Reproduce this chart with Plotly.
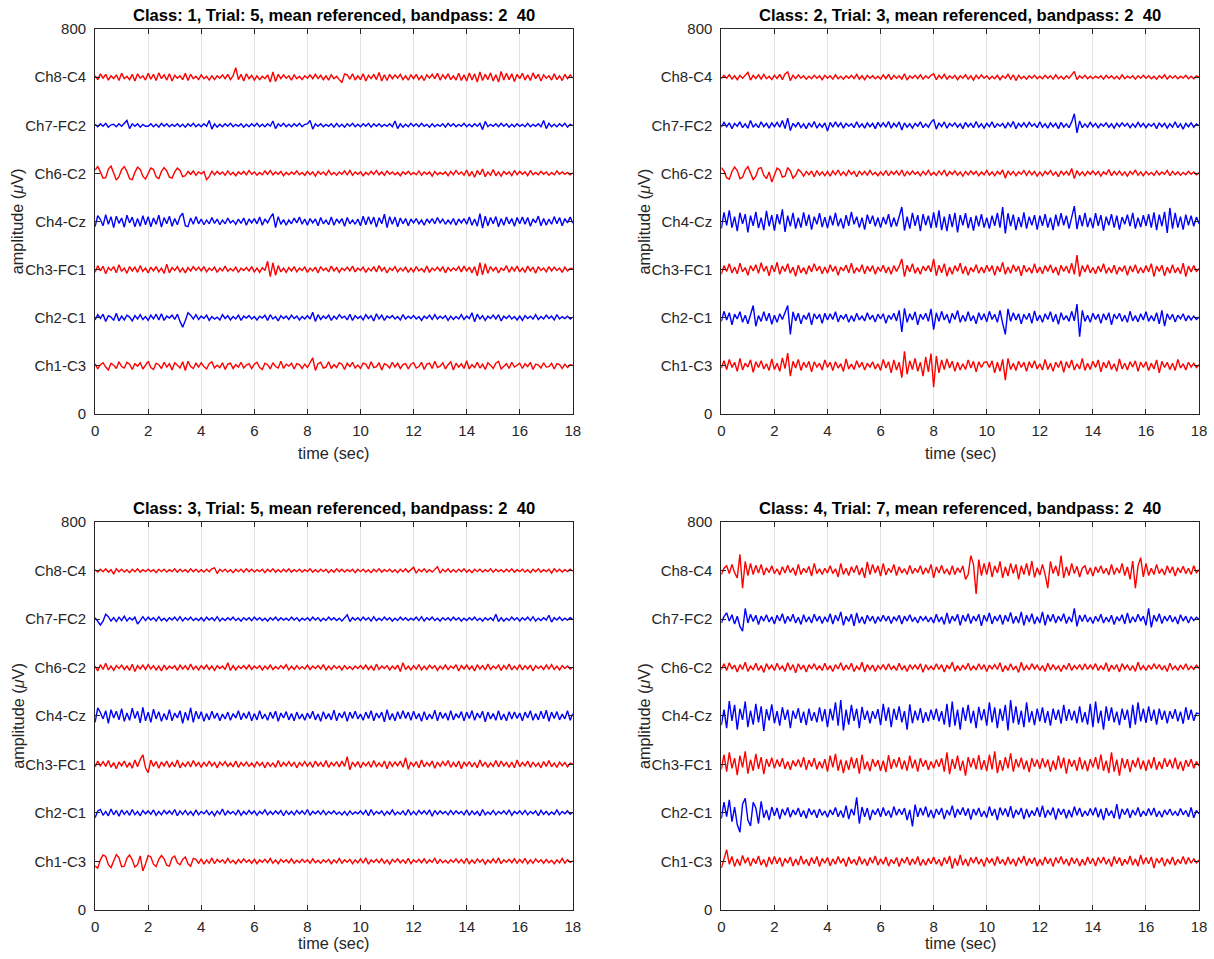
import numpy as np
import plotly.graph_objects as go

# Stored EEG traces: deviation from each channel's baseline, in microvolts,
# sampled at FS samples per second over 18 s.
FS = 10

channel_labels = ["Ch1-C3", "Ch2-C1", "Ch3-FC1", "Ch4-Cz", "Ch6-C2", "Ch7-FC2", "Ch8-C4"]
channel_offsets = [100, 200, 300, 400, 500, 600, 700]
channel_colors = ["#ff0000", "#0000ff", "#ff0000", "#0000ff", "#ff0000", "#0000ff", "#ff0000"]

y_tick_vals = [0] + channel_offsets + [800]
y_tick_text = ["0"] + channel_labels + ["800"]
x_tick_vals = list(range(0, 19, 2))

class_ids = [1, 2, 3, 4]
trial_ids = [5, 3, 5, 7]
band_low, band_high = 2, 40

# ---------------- Class 1, trial 5 ----------------
c1_ch1 = [4,-7,2,6,-3,-9,5,1,-6,8,-2,-5,7,3,-8,4,-1,6,-7,2,
          9,-4,-8,5,2,-6,7,-3,4,-9,6,1,-5,8,-10,9,-2,-6,5,-3,
          6,-2,-7,4,8,-5,1,-4,6,-8,3,5,-6,2,-3,7,-5,1,4,-6,
          3,7,-4,-8,5,2,-7,6,-2,-5,9,-6,3,-1,5,-7,4,2,-6,3,
          -4,6,16,-10,4,7,-5,-3,8,-6,2,-4,6,3,-8,5,-2,7,-5,1,
          -6,5,3,-7,8,-4,-2,6,-9,4,1,-5,7,-3,5,-6,2,4,-7,3,
          6,-5,-2,7,-8,3,5,-6,9,-4,-1,6,-7,2,8,-9,5,-3,4,-6,
          10,-7,2,-4,7,-5,3,-8,6,1,-6,5,9,-7,-2,4,-6,7,-3,2,
          5,-6,4,-2,7,-8,3,1,-5,6,-3,-2,5,-7,4,2,-6,3,-4,2,
          1]
c1_ch2 = [-5,6,-2,7,-8,4,1,-6,9,-7,3,-5,5,1,-7,4,-3,6,-4,2,
          -6,5,-3,7,-5,8,-6,3,-1,5,-4,7,-8,-20,-6,10,5,-3,6,-4,
          3,-2,5,-6,2,-3,1,-5,6,-2,4,-5,2,-3,5,-6,3,-1,4,-3,
          2,-5,3,-1,5,-6,6,-3,2,-7,4,-2,3,-4,5,-2,3,-5,2,-3,
          4,-3,11,-8,6,-4,3,-2,5,-6,3,-3,6,-1,3,-5,7,-6,4,-2,
          3,-5,6,-2,4,-7,8,-3,5,-6,3,-1,4,-3,2,-5,6,-3,3,-2,
          4,-3,2,-6,3,-2,5,-4,6,-3,3,-2,4,-6,3,-4,2,-3,6,-4,
          3,-2,10,-9,7,-3,4,-6,3,-2,5,-3,6,-7,3,-2,4,-3,2,-5,
          3,-6,4,-2,3,-3,6,-4,2,-3,5,-2,3,-5,6,-3,2,-2,3,-3,
          1]
c1_ch3 = [-6,8,-3,7,-9,4,-2,6,-7,10,-4,3,-8,6,-3,5,-6,8,-4,3,
          -7,5,-3,6,-5,3,-8,11,-7,4,-2,6,-5,3,-7,4,-3,6,-2,5,
          -3,6,-5,3,-2,5,-6,3,-3,7,-4,2,-3,5,-6,3,-2,4,-3,6,
          -5,3,-6,4,-2,17,-15,14,-12,8,-5,3,-6,4,-3,6,-5,3,-2,5,
          -6,3,-3,5,-7,6,-2,3,-5,7,-3,4,-6,3,-2,5,-3,7,-5,3,
          -2,5,-6,3,-3,6,-5,8,-3,4,-7,3,-2,6,-5,3,-3,5,-6,3,
          -5,6,-3,2,-5,7,-6,3,-2,5,-3,6,-7,4,-3,3,-2,6,-5,7,
          -3,5,-7,6,-13,14,-11,12,-8,6,-3,5,-7,3,-2,8,-6,5,-3,7,
          -5,3,-6,7,-3,5,-8,6,-2,3,-5,6,-3,5,-2,3,-6,5,-3,2,
          2]
c1_ch4 = [-11,12,4,-9,14,-6,10,-13,11,-4,7,-12,13,-3,9,-11,6,-10,12,-7,
          10,-11,7,-6,13,-12,8,-5,11,-10,6,-7,10,17,-9,-11,7,-6,10,-5,
          5,-7,3,-5,8,-4,5,-7,3,-5,7,-3,2,-6,5,-4,7,-8,5,-3,
          6,-5,9,-8,5,-3,8,16,-13,10,-6,4,-8,3,-5,7,-3,9,-6,5,
          -8,6,-3,5,-9,8,-5,3,-7,9,-8,5,-3,6,-10,8,-5,3,-6,5,
          -9,11,-7,10,-6,9,-12,8,-5,15,-13,10,-6,9,-11,7,-5,6,-9,5,
          -3,6,-5,3,-8,5,-3,6,-5,8,-3,5,-6,3,-5,6,-8,5,-3,6,
          -6,9,-8,5,-10,16,-14,11,-9,8,-5,10,-11,6,-8,9,-5,6,-10,8,
          -5,9,-6,8,-10,5,-3,11,-9,6,-8,5,-6,10,-5,8,-9,6,-3,9,
          -4]
c1_ch6 = [7,14,3,-10,-9,9,15,-1,-14,-7,8,14,4,-11,-13,2,13,8,-6,-12,
          1,11,8,-7,-11,4,12,5,-8,-10,3,11,6,-7,-5,4,-2,5,-4,3,
          -1,4,-13,-7,5,-3,4,-2,3,-4,5,-3,2,-5,3,-2,4,-3,6,-2,
          3,-4,2,-3,5,-2,6,-3,3,-2,4,-5,2,-3,3,-2,5,-3,2,-4,
          4,-3,3,-6,4,-2,3,-4,6,-3,2,-4,3,-2,5,-3,6,-4,3,-2,
          3,-5,2,-3,4,-2,6,-3,3,-4,5,-2,3,-3,2,-5,3,-2,4,-3,
          2,-3,5,-4,3,-2,3,-6,4,-3,2,-2,3,-5,4,-3,6,-2,3,-4,
          7,-6,4,-8,6,-3,9,-7,3,-4,8,-5,3,-6,4,-2,3,-5,6,-3,
          4,-2,3,-5,6,-3,2,-3,4,-2,3,-4,2,-3,5,-2,3,-2,2,-3,
          1]
c1_ch7 = [2,-3,3,-2,4,-4,1,2,-3,3,-2,4,10,-7,3,-2,3,-4,2,-2,
          -2,3,-3,2,-4,4,-2,3,-3,2,-2,3,-3,2,-4,3,-2,4,-3,2,
          -3,3,-2,10,-8,3,-4,2,-3,3,-2,4,-3,2,-2,3,-4,2,-3,3,
          -2,4,-3,2,-3,3,-2,9,-7,3,-2,4,-3,2,-3,3,-2,4,-3,2,
          3,10,-8,3,-2,3,-3,2,-2,3,-4,4,-3,2,-4,3,-2,4,-3,2,
          -3,3,-2,4,-4,3,-2,3,-3,2,-2,3,-3,9,-7,3,-4,2,-3,4,
          -2,3,-3,4,-2,2,-4,3,-3,2,-2,3,-4,4,-2,3,-3,2,-2,4,
          -3,2,-3,3,-2,4,-9,8,-3,2,-2,3,-3,4,-2,3,-4,2,-3,3,
          -2,2,-3,4,-3,2,-2,3,-3,10,-7,4,-3,2,-3,3,-2,4,-4,2,
          -1]
c1_ch8 = [3,-5,7,-2,6,-6,3,-3,5,-7,8,-3,2,-5,6,-8,7,-2,3,-6,
          8,-4,6,-7,9,-3,5,-6,7,-8,4,-2,3,-5,8,-7,6,-3,2,-5,
          5,-3,2,-6,3,-5,3,-2,5,-3,6,-5,3,20,-5,6,-8,7,-3,4,
          -6,3,-5,2,-3,5,-10,11,-9,6,-3,5,-2,3,-6,5,-3,2,-5,3,
          -2,5,-3,6,-3,4,-5,3,-6,5,-3,2,-5,-11,7,5,-4,7,-6,3,
          -5,7,-8,4,-3,6,-5,10,-8,5,-7,6,-3,5,-2,6,-5,3,-6,5,
          -3,6,-5,3,-7,5,-2,6,-3,8,-6,5,-3,7,-5,3,-6,8,-7,5,
          -8,9,-6,7,-10,11,-7,6,-5,9,-8,5,-10,12,-6,8,-5,7,-9,6,
          -3,8,-6,5,-7,9,-3,6,-8,5,-2,3,-6,7,-5,3,-7,6,-3,5,
          -2]

# ---------------- Class 2, trial 3 ----------------
c2_ch1 = [-5,10,-8,13,-4,7,-12,15,-9,5,-3,12,-14,8,-4,10,-7,4,-10,14,
          -8,5,-12,16,-6,26,-22,9,-5,13,-10,7,-4,9,-13,8,-3,5,-9,12,
          -4,7,-10,8,-5,4,-12,14,-7,3,-8,10,-4,7,-9,5,-3,8,-7,4,
          -10,13,-5,8,-15,12,-9,7,-25,30,-18,10,-8,15,-12,7,-22,18,-13,25,
          -45,20,-15,12,-8,14,-5,9,-12,7,-9,4,-8,12,-5,9,-13,8,-4,7,
          8,-4,10,-15,7,-12,13,-30,15,-8,5,-10,9,-4,7,-12,8,-5,10,-7,
          4,-9,13,-8,5,-12,7,-4,10,-14,8,-5,12,-9,4,-7,15,-10,5,-8,
          9,-4,12,-13,7,-5,10,-8,4,-12,14,-7,5,-9,8,-3,10,-12,7,-4,
          8,-10,5,-7,12,-15,9,-4,7,-8,5,-10,13,-5,4,-9,7,-3,5,-4,
          2]
c2_ch2 = [-8,13,-5,10,-15,7,-3,12,-10,5,-13,9,25,-18,4,-8,12,-7,9,-14,
          5,-10,8,-4,13,25,-35,12,-7,9,-13,5,-4,10,-15,8,-3,7,-12,9,
          -5,8,-4,12,-9,5,-3,7,-10,4,-8,9,-5,3,-7,10,-4,5,-9,7,
          -3,8,-12,5,-4,9,-7,15,-30,19,-10,8,-5,12,-15,7,-4,9,-8,18,
          -25,10,-8,13,-5,7,-12,9,-4,15,-10,5,-8,12,-7,4,-13,10,-5,8,
          -9,13,-4,7,-10,15,-12,-35,18,-8,10,-5,8,-13,7,-4,9,-12,14,-7,
          5,-10,8,-4,12,-9,7,-14,10,-5,4,-8,13,-7,28,-40,15,-8,5,-10,
          9,-4,7,-12,8,-5,10,-15,7,-3,9,-8,5,-10,13,-7,4,-9,8,-5,
          12,-8,4,-7,10,-13,15,-18,8,-4,7,-9,5,-3,8,-7,4,-5,3,-4,
          1]
c2_ch3 = [-10,8,-4,12,-7,5,-9,13,-5,4,-12,8,-3,10,-8,14,-4,7,-13,9,
          -5,15,-10,7,-4,12,-8,5,-14,9,-7,4,-10,8,-5,12,-3,7,-9,5,
          -8,10,-4,7,-12,5,-3,9,-7,13,-8,4,-5,10,-9,7,-4,8,-10,5,
          -4,9,-7,5,-10,8,-4,7,22,-15,9,-5,12,-8,4,-10,7,-3,8,-5,
          22,-13,9,-7,12,-14,5,-10,8,-4,13,-9,7,-12,4,-5,10,-8,5,-7,
          9,-4,8,-12,7,-5,15,-10,5,-8,10,-4,7,-13,9,-5,4,-8,12,-7,
          5,-9,8,-4,10,-7,5,-12,9,-4,7,-8,13,-10,30,-15,8,-5,10,-7,
          4,-9,7,-5,12,-8,4,-7,9,-10,5,-4,8,-12,7,-5,10,-8,4,-7,
          8,-5,12,-15,7,-4,9,-13,5,-8,10,-7,4,-9,13,-15,7,-5,8,-4,
          2]
c2_ch4 = [-15,19,-8,23,-13,10,-20,18,-5,15,-23,12,-9,20,-14,8,-18,22,-10,13,
          -19,15,-6,25,-22,12,-10,18,-15,8,-13,19,-9,14,-17,10,-6,17,-12,9,
          -14,12,-8,18,-10,6,-15,13,-9,20,-6,10,-13,8,-17,14,-5,12,-10,8,
          -13,9,-6,15,-12,8,-10,13,30,-19,10,-15,18,-9,13,-20,15,-8,12,-14,
          19,-13,23,-18,10,-20,15,-12,18,-23,13,-8,17,-14,9,-19,12,-10,15,-13,
          8,-15,12,-9,18,-13,30,-25,17,-10,14,-18,9,-12,19,-15,10,-8,13,-17,
          12,-9,15,-13,8,-18,14,-10,17,-8,12,-15,9,32,-16,13,-10,18,-12,8,
          -14,17,-9,13,-19,10,-8,15,-13,12,-17,9,-6,14,-10,18,-15,8,-12,13,
          -9,15,-13,19,-18,14,-10,20,-24,28,-15,18,-13,10,-17,14,-8,12,-10,9,
          -5]
c2_ch6 = [12,5,-9,-12,4,13,6,-11,-8,7,14,-1,-13,-6,10,12,-4,-11,3,-18,
          -5,11,7,-8,-6,12,5,-10,-4,8,3,-6,4,-3,5,-7,6,-4,3,-5,
          4,-6,5,-3,7,-4,3,-5,6,-2,4,-7,5,-3,4,-4,6,-3,2,-5,
          3,-4,6,-5,4,-2,5,-4,7,-6,4,-3,5,-2,3,-5,4,-3,6,-4,
          2,-4,5,-3,7,-6,4,-2,5,-4,3,-6,4,-3,5,-2,4,-5,3,-3,
          6,-4,3,-5,4,-2,7,-10,5,-3,4,-5,3,-2,6,-4,5,-3,4,-6,
          3,-5,4,-2,6,-4,3,-7,5,-3,4,-4,10,-11,6,-4,3,-5,4,-2,
          5,-3,4,-6,3,-2,8,-5,4,-3,5,-4,3,-6,4,-2,7,-4,3,-5,
          4,-3,2,-4,5,-3,3,-2,6,-5,4,-3,3,-4,2,-3,4,-2,3,-3,
          1]
c2_ch7 = [-4,6,-3,5,-7,4,-2,7,-5,3,-6,10,-4,3,-5,7,-3,4,-6,5,
          -3,6,-4,10,-7,15,-11,4,-3,6,-5,3,-7,5,-4,8,-6,3,-4,5,
          -12,6,-4,7,-3,5,-6,4,-2,3,-5,7,-4,3,-6,5,-3,4,-7,6,
          -3,5,-4,8,-6,4,-3,7,-10,5,-4,3,-6,4,-2,7,-5,3,-4,6,
          12,-8,5,-3,7,-6,4,-2,5,-4,3,-7,6,-3,4,-5,8,-4,3,-6,
          4,-3,7,-5,3,-2,4,-6,5,-3,8,-7,4,-3,5,-4,6,-2,3,-5,
          7,-4,3,-6,5,-3,4,-7,6,-4,3,-5,7,24,-16,9,-5,3,-4,6,
          -3,4,-5,3,-2,5,-4,3,-6,4,-3,5,-2,4,-5,3,-4,6,-3,4,
          -5,3,-2,4,-7,5,-3,4,-6,3,-4,7,-5,3,-8,4,-3,5,-4,3,
          -1]
c2_ch8 = [-3,4,-2,5,-4,3,-5,4,-2,3,10,-6,4,-3,5,-4,6,-3,2,-5,
          4,-3,6,-5,7,11,-7,4,-3,5,-2,3,-4,2,-3,4,-2,3,-5,4,
          -2,3,-4,5,-3,2,-4,3,-2,4,-3,6,-4,3,-5,4,-2,3,-3,2,
          -4,5,-3,6,-5,4,-2,3,-4,7,-6,3,-2,4,-3,5,-4,3,-2,4,
          7,-5,4,-3,6,-4,3,-2,4,-5,3,-2,5,-4,3,-6,4,-3,5,-2,
          3,-4,2,-3,4,-5,3,-2,6,-4,5,-7,4,-3,2,-4,3,-2,4,-3,
          2,-3,4,-2,3,-4,5,-3,2,-4,3,-2,4,12,-5,3,-2,4,-3,2,
          -3,2,-2,3,-4,4,-2,3,-3,2,-4,5,-3,2,-2,3,-4,3,-2,4,
          -2,3,-3,2,-4,3,-2,5,-4,3,-2,3,-3,2,-2,4,-3,2,-3,3,
          0]

# ---------------- Class 3, trial 5 ----------------
c3_ch1 = [-10,-14,3,13,10,-7,-13,1,14,7,-11,-10,6,13,3,-12,-7,11,-20,-5,
          12,9,-6,-11,4,12,5,-8,-10,7,11,-3,-7,4,9,-5,-10,6,4,-4,
          5,-6,3,-4,7,-5,4,-2,3,-4,6,-3,2,-5,4,-3,5,-2,3,-4,
          4,-5,3,-2,4,-3,6,-4,3,-5,4,-2,3,-3,5,-4,2,-3,4,-2,
          3,-4,5,-3,2,-4,3,-2,4,-5,3,-3,6,-4,3,-2,4,-5,3,-3,
          5,-4,7,-6,3,-2,4,-3,5,-4,3,-6,4,-2,5,-3,3,-4,6,-5,
          3,-2,4,-3,5,-4,3,-2,6,-5,4,-3,2,-4,3,-2,5,-3,4,-4,
          6,-5,3,-4,5,-2,4,-6,3,-3,5,-4,7,-5,3,-2,4,-3,5,-4,
          4,-3,6,-5,3,-4,5,-2,3,-4,4,-3,2,-5,3,-3,6,-4,3,-2,
          1]
c3_ch2 = [-10,4,7,-5,3,-6,8,-4,5,-7,6,-3,4,-5,7,-4,3,-6,5,-2,
          4,-3,6,-5,3,-4,5,-2,4,-3,7,-6,4,-3,5,-4,3,-5,6,-4,
          3,-2,5,-4,3,-6,4,-3,8,-5,4,-2,3,-4,6,-5,3,-3,5,-2,
          4,-5,3,-2,6,-4,3,-3,4,-2,5,-6,4,-3,3,-4,5,-2,4,-3,
          7,-5,3,-2,4,-3,5,-4,3,-2,4,-3,2,-4,3,-5,4,-3,2,-2,
          4,-3,5,-6,7,-4,3,-2,4,-5,3,-3,6,-4,2,-3,4,-5,7,-4,
          3,-4,5,-2,4,-3,6,-7,5,-3,4,-2,3,-4,5,-3,4,-2,3,-4,
          6,-5,4,-3,3,-6,7,-4,2,-3,5,-4,3,-2,4,-3,6,-5,3,-2,
          4,-3,5,-4,3,-2,4,-6,5,-3,3,-4,2,-3,6,-4,3,-2,4,-3,
          1]
c3_ch3 = [-5,7,-3,6,-4,8,-6,4,-9,5,-3,7,-6,4,-8,9,-5,10,20,-7,
          -17,9,-4,6,-8,5,-3,7,-6,4,-5,9,-7,3,-4,6,-5,8,-3,4,
          -6,5,-4,7,-3,4,-7,5,-2,6,-4,3,-5,7,-6,4,-3,5,-4,3,
          -5,6,-3,4,-7,5,-4,3,-6,8,-5,4,-3,6,-4,5,-7,4,-3,6,
          -4,5,-6,7,-3,4,-5,8,-6,4,-3,6,-5,7,-4,16,-11,5,-4,6,
          -7,4,-3,5,-6,8,-4,3,-5,7,-9,6,-4,5,-3,7,-6,14,-10,5,
          -4,6,-7,9,-5,4,-3,7,-8,5,-4,6,-3,8,-6,4,-5,7,-9,5,
          -3,6,-5,4,-7,9,-4,5,-6,3,-4,8,-5,7,-3,4,-6,5,-7,9,
          -5,4,-3,7,-6,5,-4,3,-7,6,-4,8,-5,3,-6,5,-3,4,-5,3,
          1]
c3_ch4 = [-13,17,7,-6,11,-15,13,-4,10,-8,15,-11,6,-9,16,-5,10,-14,18,-10,
          8,-13,14,-6,9,-11,5,-8,13,-10,6,-4,11,-15,8,-9,17,-13,10,-6,
          9,-11,5,-8,10,-5,6,-10,4,-6,8,-9,5,-4,11,-8,6,-5,9,-10,
          5,-8,11,-6,4,-9,8,-5,10,-11,6,-4,9,-8,5,-10,8,-6,4,-9,
          6,-5,10,-8,4,-11,9,-6,5,-8,12,-10,6,-4,9,-11,8,-5,10,-6,
          4,-9,8,-5,11,-10,6,-4,8,-12,13,-8,5,-10,9,-6,11,-5,8,-9,
          10,-6,5,-11,9,-8,4,-6,12,-10,8,-5,6,-9,11,-8,5,-4,9,-10,
          8,-5,11,-9,6,-4,10,-12,8,-6,5,-9,11,-8,4,-10,9,-6,8,-5,
          6,-10,8,-4,11,-9,5,-8,10,-6,12,-11,8,-5,9,-8,4,-6,11,-9,
          5]
c3_ch6 = [3,-7,6,-4,9,-5,3,-6,4,-2,5,-4,3,-6,7,-8,4,-3,5,-4,
          6,-3,4,-5,3,-7,5,-4,3,-2,4,-6,5,-3,4,-5,7,-4,3,-5,
          4,-3,5,-4,3,-6,4,-2,3,-4,10,-6,4,-5,3,-2,4,-3,5,-4,
          3,-2,4,-5,3,-3,5,-4,2,-3,4,-2,6,-5,3,-4,4,-3,2,-3,
          5,-4,3,-2,4,-3,6,-5,3,-4,4,-2,3,-5,4,-3,2,-4,3,-2,
          4,-3,5,-4,3,-6,7,-4,3,-2,4,-5,3,-3,5,-8,10,-4,3,-5,
          4,-3,6,-5,3,-4,5,-2,4,-6,3,-3,5,-4,3,-2,6,-7,4,-3,
          5,-4,3,-7,6,-3,4,-5,7,-4,3,-2,5,-6,4,-3,7,-5,3,-4,
          6,-5,4,-3,5,-7,4,-2,3,-4,5,-3,6,-4,3,-5,4,-2,3,-3,
          1]
c3_ch7 = [3,-5,-12,-4,10,5,-4,3,-5,4,-3,6,-4,3,-2,4,-10,-3,5,-3,
          4,-2,3,-4,5,-3,2,-4,3,-2,4,-3,5,-4,3,-2,4,-3,2,-3,
          3,-4,4,-2,3,-3,5,-4,2,-3,3,-2,4,-3,2,-4,3,-2,3,-3,
          4,-2,3,-3,2,-4,3,-2,4,-3,3,-2,2,-3,4,-2,3,-4,2,-2,
          3,-3,4,-2,3,-4,2,-3,4,-2,3,-3,2,-4,3,9,-5,3,-2,3,
          -3,4,-2,3,-4,5,-3,2,-3,4,-2,3,-4,2,-3,4,-2,3,-3,2,
          -2,4,-3,5,-4,3,-2,4,-3,2,-4,3,-2,3,-3,4,-2,3,-4,2,
          -3,3,-2,4,-3,2,-4,3,-2,3,-3,10,-5,3,-4,2,-3,4,-2,3,
          -4,3,-2,4,-3,5,-4,2,-3,3,-2,8,-6,3,-2,4,-3,2,-2,3,
          -1]
c3_ch8 = [2,-3,3,-2,4,-3,2,-7,4,-2,3,-3,2,-4,3,-2,4,-3,2,-2,
          3,-2,2,-4,3,-2,3,-3,2,-2,4,-3,3,-2,2,-3,4,-2,3,-3,
          2,-3,3,-2,4,6,-6,3,-2,3,-3,2,-4,3,-2,3,-3,4,-2,3,
          -3,2,-2,3,-4,3,-2,4,-3,2,-3,3,-2,4,-3,2,-2,3,-3,2,
          -2,4,-3,2,-3,3,-2,3,-4,2,-3,4,-2,3,-3,2,-2,3,-4,3,
          -2,3,-3,2,-4,3,-2,4,-3,2,-2,3,-3,2,-4,3,-2,4,-3,2,
          7,-5,3,-2,4,-3,2,-3,3,8,-5,3,-2,4,-3,2,-3,3,-2,4,
          -3,2,-4,3,-2,3,-3,2,-2,4,-3,3,-2,2,-3,3,-2,4,-3,2,
          -2,3,-3,2,-4,3,-2,4,-3,2,-2,3,-5,4,-2,3,-3,2,-2,3,
          -1]

# ---------------- Class 4, trial 7 ----------------
c4_ch1 = [-14,8,24,-6,10,-11,5,-9,12,-4,8,-10,6,-5,11,-8,4,-12,9,-6,
          10,-5,8,-11,6,-4,9,-10,5,-8,11,-6,4,-9,8,-5,10,-11,6,-4,
          8,-9,5,-6,10,-4,6,-11,9,-5,4,-8,10,-6,5,-9,8,-4,11,-8,
          5,-6,9,-10,4,-5,8,-11,6,-4,9,-8,5,-6,10,-9,4,-8,6,-5,
          9,-6,4,-10,8,-5,11,-15,6,-9,13,-8,5,-10,8,-4,9,-6,5,-11,
          8,-4,6,-9,10,-5,4,-8,9,-6,5,-10,8,-4,11,-9,6,-5,8,-10,
          4,-8,9,-5,6,-11,8,-4,10,-6,5,-9,8,-5,6,-10,4,-8,9,-5,
          6,-10,8,-4,9,-6,5,-11,10,-5,8,-9,4,-6,11,-8,5,-10,13,-6,
          8,-5,9,-14,6,-4,8,-10,5,-6,9,-8,4,-5,10,-6,8,-4,5,-3,
          3]
c4_ch2 = [-12,22,-8,27,-18,12,-24,-40,18,30,-15,-27,22,10,-22,24,-10,6,-15,12,
          -6,10,-13,8,-5,11,-9,6,-4,10,-8,5,-11,9,-4,6,-10,8,-5,4,
          -9,6,-4,11,-8,5,-10,15,-13,8,-5,32,-22,12,-8,10,-15,6,-4,9,
          -8,11,-6,5,-10,13,-5,8,-4,10,-15,6,-28,17,-8,10,-5,13,-9,6,
          -11,8,-4,10,-13,6,-5,15,-10,8,-4,11,-6,9,-14,8,-5,10,-8,4,
          -10,13,-6,8,-15,11,-5,9,-8,14,-11,6,-4,10,-13,8,-9,5,-6,11,
          -8,15,-10,6,-5,11,-14,9,-4,8,-11,6,-9,13,-5,10,-8,4,-6,9,
          -5,11,-9,8,-15,10,-6,5,-11,18,-13,8,-4,9,-10,6,-5,11,-8,4,
          -6,9,-5,10,-8,4,-9,6,-4,8,-5,3,-6,9,-4,5,-8,11,-10,5,
          -2]
c4_ch3 = [-10,20,-15,25,-8,13,-22,18,-6,27,-19,10,-13,22,-9,15,-20,11,-5,14,
          -8,10,-5,13,-9,6,-11,8,-4,10,-6,15,-11,9,-5,13,-10,6,-8,11,
          -15,18,-6,22,-13,10,-18,8,-11,15,-8,13,-19,20,-10,6,-14,11,-5,9,
          -13,8,-16,19,-9,11,-6,15,-10,8,-13,18,-8,10,-15,13,-5,9,-11,6,
          -8,10,-5,13,-15,25,-20,11,-9,18,-13,8,-23,15,-6,13,-10,19,-11,9,
          -14,20,-10,27,-18,9,-13,15,-8,23,-15,11,-6,14,-10,8,-16,13,-5,10,
          -9,13,-6,10,-15,8,-11,18,-8,14,-19,11,-5,9,-13,15,-10,8,-14,11,
          -6,15,-10,20,-13,8,-18,25,-15,10,-23,13,-8,11,-16,9,-6,14,-10,8,
          -13,10,-8,15,-11,6,-9,13,-5,10,-8,14,-10,6,-13,9,-5,11,-8,6,
          -3]
c4_ch4 = [-19,13,-25,31,-10,23,-28,15,-8,30,-23,11,-18,25,-13,20,-31,14,-9,24,
          -15,10,-20,18,-8,13,-25,11,-6,16,-14,9,-19,15,-10,8,-13,18,-11,14,
          -23,15,-9,28,-20,33,-30,13,-18,23,-10,15,-25,19,-8,11,-15,10,-6,14,
          -19,25,-10,18,-23,15,-8,20,-13,10,-28,24,-15,11,-9,16,-14,8,-11,13,
          -8,15,-11,10,-18,25,-23,30,-20,13,-28,18,-10,23,-15,11,-25,19,-9,14,
          -20,28,-13,18,-25,15,-10,23,-30,33,-15,20,-18,11,-23,28,-13,10,-19,15,
          -11,18,-14,10,-20,15,-8,13,-16,23,-10,14,-9,11,-15,20,-13,8,-18,25,
          -23,30,-15,11,-28,20,-10,18,-13,9,-19,15,-8,13,-25,23,-18,28,-11,15,
          -14,20,-10,13,-18,15,-8,11,-15,10,-6,14,-11,9,-16,18,-8,13,-10,6,
          5]
c4_ch6 = [-4,8,-6,10,-3,5,-9,6,-4,11,-8,3,-5,9,-6,4,-10,8,-3,5,
          -6,9,-4,3,-8,10,-5,6,-11,8,-4,5,-9,6,-3,8,-5,4,-6,9,
          -5,4,-8,6,-3,10,-6,5,-4,9,-8,3,-5,11,-9,6,-4,5,-8,4,
          -3,6,-5,8,-4,3,-6,9,-5,4,-8,6,-3,5,-4,8,-10,6,-4,3,
          -5,8,-4,6,-9,5,-3,11,-8,4,-6,5,-4,9,-6,3,-5,8,-4,6,
          -8,5,-3,6,-4,10,-9,4,-6,8,-5,3,-10,11,-6,4,-5,8,-3,5,
          -6,4,-8,9,-5,6,-4,3,-8,5,-4,9,-6,4,-3,6,-5,8,-4,5,
          -3,8,-6,4,-5,10,-8,5,-4,6,-9,8,-3,5,-6,4,-8,11,-5,4,
          -6,5,-4,8,-3,6,-5,4,-8,9,-4,3,-6,5,-4,8,-5,3,-4,5,
          -2]
c4_ch7 = [-8,5,13,-4,9,-10,6,-15,-25,22,-8,10,-5,8,-11,6,-4,9,-6,5,
          -10,8,-4,11,-9,6,-5,10,-8,4,-11,9,-6,5,-8,10,-4,6,-9,5,
          -6,11,-10,8,-4,15,-13,6,-5,10,-14,13,-8,5,-10,8,-4,6,-9,5,
          -5,8,-4,6,-9,5,-3,8,-10,6,-4,9,-5,4,-8,6,-3,5,-6,4,
          -8,10,-6,5,-11,13,-9,6,-4,10,-13,8,-5,11,-9,6,-4,10,-14,8,
          -5,13,-10,6,-4,9,-11,8,-5,14,-9,6,-8,15,-13,8,-6,11,-10,5,
          -8,15,-13,9,-5,10,-8,6,-4,11,-9,5,-6,22,-15,8,-5,9,-6,4,
          -9,6,-5,10,-8,4,-6,8,-11,5,-4,9,-10,13,-8,5,-6,10,-4,6,
          -13,22,-17,8,-5,11,-9,6,-4,8,-6,5,-10,9,-4,6,-8,5,-3,4,
          -1]
c4_ch8 = [-8,5,10,-6,13,-4,-15,34,-36,19,-10,15,-8,11,-5,13,-9,6,-4,10,
          -6,4,-9,8,-5,11,-4,6,-10,13,-8,5,-4,9,-11,15,-6,4,-8,5,
          -5,10,-6,4,-13,15,-8,5,-10,8,-4,11,-9,6,-15,18,-8,13,-5,10,
          -11,15,-9,5,-4,13,-10,8,-5,4,-8,11,-6,5,-4,10,-8,6,-5,13,
          -15,8,-5,11,-6,4,-9,10,-8,6,-4,10,-18,-8,31,13,-48,23,-10,15,
          -8,18,-13,10,-5,19,-15,8,-11,15,-6,13,-18,10,-8,15,-10,20,-14,6,
          -9,13,-8,-36,19,-6,10,-11,31,-15,8,-10,15,-6,9,-13,5,10,-8,6,
          -11,8,-4,10,-6,5,-9,13,-8,6,-5,15,-10,8,-18,20,-36,10,27,-13,
          15,-10,5,-8,13,-6,4,-9,10,-5,8,-11,6,-4,9,-6,5,-8,10,-4,
          2]

class_traces = [
    [c1_ch1, c1_ch2, c1_ch3, c1_ch4, c1_ch6, c1_ch7, c1_ch8],
    [c2_ch1, c2_ch2, c2_ch3, c2_ch4, c2_ch6, c2_ch7, c2_ch8],
    [c3_ch1, c3_ch2, c3_ch3, c3_ch4, c3_ch6, c3_ch7, c3_ch8],
    [c4_ch1, c4_ch2, c4_ch3, c4_ch4, c4_ch6, c4_ch7, c4_ch8],
]

# ---------------- layout geometry (figure pixels) ----------------
W, H = 1214, 959
col_px = [(92, 574.5), (724.5, 1207)]
row_px = [(20.5, 412), (522.5, 917)]
title_y = [6.5, 508.5]
xlabel_y = [452.5, 951]

FONT = "Liberation Sans, Arial, Helvetica, sans-serif"
TXT = "#262626"
TICK_SIZE = 15
LABEL_SIZE = 16.3
TITLE_SIZE = 16.6

fig = go.Figure()
layout = dict(
    width=W, height=H,
    margin=dict(l=0, r=0, t=0, b=0),
    paper_bgcolor="white", plot_bgcolor="white",
    showlegend=False,
    font=dict(family=FONT, size=TICK_SIZE, color=TXT),
)
annotations = []

for i in range(4):
    r, c = divmod(i, 2)
    sfx = "" if i == 0 else str(i + 1)
    x0, x1 = col_px[c]
    y0, y1 = row_px[r]
    xdom = [x0 / W, x1 / W]
    ydom = [1 - y1 / H, 1 - y0 / H]

    for k, vals in enumerate(class_traces[i]):
        v = np.asarray(vals, dtype=float)
        t = np.arange(len(v)) / FS
        fig.add_trace(go.Scatter(
            x=t, y=channel_offsets[k] + v, mode="lines",
            line=dict(color=channel_colors[k], width=1.4),
            xaxis="x" + sfx, yaxis="y" + sfx, hoverinfo="skip",
        ))

    layout["xaxis" + sfx] = dict(
        domain=xdom, anchor="y" + sfx, range=[0, 18],
        tickvals=x_tick_vals, ticktext=[str(v) for v in x_tick_vals],
        showgrid=True, gridcolor="#e3e3e3", gridwidth=1, zeroline=False,
        showline=True, linecolor=TXT, linewidth=1, mirror="ticks",
        ticks="inside", ticklen=5, tickcolor=TXT, ticklabelstandoff=3,
        tickfont=dict(family=FONT, size=TICK_SIZE, color=TXT),
    )
    layout["yaxis" + sfx] = dict(
        domain=ydom, anchor="x" + sfx, range=[0, 800],
        tickvals=y_tick_vals, ticktext=y_tick_text,
        showgrid=False, zeroline=False,
        showline=True, linecolor=TXT, linewidth=1, mirror="ticks",
        ticks="inside", ticklen=5, tickcolor=TXT, ticklabelstandoff=5,
        tickfont=dict(family=FONT, size=TICK_SIZE, color=TXT),
    )

    cx = (x0 + x1) / 2 / W
    annotations.append(dict(
        text=f"<b>Class: {class_ids[i]}, Trial: {trial_ids[i]}, mean referenced, "
             f"bandpass: {band_low}\u00a0 {band_high}</b>",
        x=cx, y=1 - title_y[r] / H, xref="paper", yref="paper",
        xanchor="center", yanchor="middle", showarrow=False,
        font=dict(family=FONT, size=TITLE_SIZE, color="#000000"),
    ))
    annotations.append(dict(
        text="time (sec)",
        x=cx, y=1 - xlabel_y[r] / H, xref="paper", yref="paper",
        xanchor="center", yanchor="middle", showarrow=False,
        font=dict(family=FONT, size=LABEL_SIZE, color=TXT),
    ))
    annotations.append(dict(
        text="amplitude (<i>\u03bc</i>V)",
        x=(x0 - 78) / W, y=1 - (y0 + y1) / 2 / H, xref="paper", yref="paper",
        xanchor="center", yanchor="middle", textangle=-90, showarrow=False,
        font=dict(family=FONT, size=LABEL_SIZE, color=TXT),
    ))

layout["annotations"] = annotations
fig.update_layout(**layout)
fig.write_html("out.html")
